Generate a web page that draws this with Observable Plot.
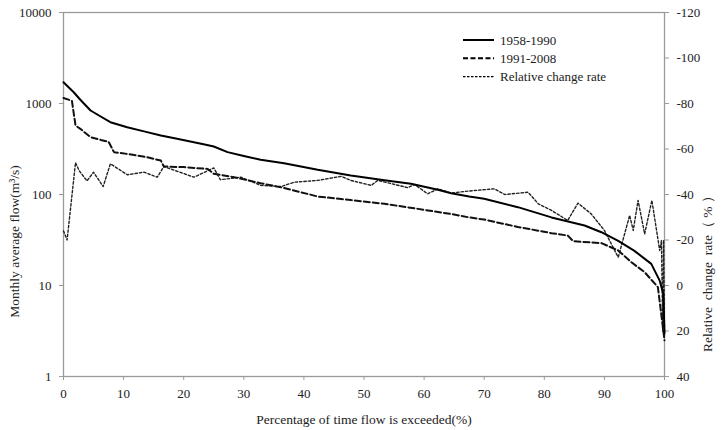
<!DOCTYPE html>
<html>
<head>
<meta charset="utf-8">
<script src="https://cdn.jsdelivr.net/npm/d3@7"></script>
<script src="https://cdn.jsdelivr.net/npm/@observablehq/plot@0.6"></script>
<style>
  html, body { margin: 0; padding: 0; background: #fff; }
  #chart { position: relative; width: 724px; height: 430px; }
</style>
</head>
<body>
<div id="chart"></div>
<script>
// 1958-1990 (solid)
const pctSolid = [0, 1.7, 2.8, 4.5, 5.9, 7.8, 10.6, 13.4, 16.2, 18.9, 21.7, 23.5, 25, 27.3, 30, 32.8, 36.7, 42.3, 47.8, 53.4, 57.8, 62.3, 64.5, 67.5, 70, 75.6, 81.2, 86.7, 89.5, 92.3, 95, 97.8, 99.2, 99.8, 100];
const flowSolid = [1714, 1330, 1100, 838, 738, 623, 549, 494, 444, 409, 376, 355, 337, 292, 265, 241, 221, 187, 162, 143, 131, 113, 103, 95, 89.6, 72.6, 56, 45.6, 38.5, 31, 24, 17.3, 11.3, 8.1, 3];

// 1991-2008 (dashed)
const pctDashed = [0, 1.4, 2, 2.8, 4.5, 6.2, 7.5, 8.4, 10.6, 13.9, 16.2, 16.7, 20, 24, 25, 28.4, 32.8, 36.7, 42.3, 47.8, 53.4, 59, 64.5, 67.5, 70, 75.6, 81.2, 83.9, 84.8, 89.5, 92.3, 94.5, 96.7, 98.9, 100];
const flowDashed = [1150, 1070, 573, 527, 427, 398, 380, 292, 279, 257, 236, 203, 200, 191, 169, 155, 133, 118, 95, 87, 79, 69.5, 61, 56, 53, 44, 37.6, 35.4, 30.7, 29.2, 24.3, 18, 14, 9.6, 2.5];

// Relative change rate (dotted, right axis, %)
const pctRate = [0, 0.6, 2, 2.6, 3.9, 5, 6.6, 7.8, 10.6, 13.4, 15.6, 16.7, 21.7, 25, 26.1, 29.5, 31.2, 32.8, 36.2, 38.4, 42.3, 46.2, 47.8, 51.2, 52.3, 57.3, 58.4, 60.6, 62.3, 64.5, 67.3, 71.7, 73.4, 77.3, 79, 81.2, 83.9, 85.6, 87.8, 90, 92.3, 94.2, 94.8, 95.6, 96.7, 97.9, 99.2, 99.5, 99.7, 99.85, 100];
const rateValues = [-24, -20, -54, -50.5, -46, -49.8, -43.5, -53.5, -48.7, -49.8, -47.6, -52.3, -47.6, -51.7, -46.5, -47.6, -45.8, -44, -43.5, -45.4, -46.2, -48, -46.2, -44, -46.2, -43, -44.4, -40.3, -42.5, -40.6, -41.5, -42.5, -40, -41, -35.9, -33, -28.6, -36.2, -31.5, -24.2, -12.4, -30.8, -24.2, -37.4, -22.7, -37.4, -15.4, -19.8, 20, -20, 22];

const leftTicks = [1, 10, 100, 1000, 10000];
const rightTicks = [-120, -100, -80, -60, -40, -20, 0, 20, 40];
const xTicks = [0, 10, 20, 30, 40, 50, 60, 70, 80, 90, 100];

const xLabel = "Percentage of time flow is exceeded(%)";
const yLabel = "Monthly average flow(m\u00B3/s)";
const y2Label = "Relative\u00A0\u00A0change\u00A0\u00A0rate\uFF08\u00A0%\u00A0\uFF09";
const seriesNames = ["1958-1990", "1991-2008", "Relative change rate"];

// right-axis value r maps onto the left log scale: v = 10^(1 - r/40)
const rateToLeft = r => Math.pow(10, 1 - r / 40);

const solid = pctSolid.map((p, i) => ({p, v: flowSolid[i]}));
const dashed = pctDashed.map((p, i) => ({p, v: flowDashed[i]}));
const rate = pctRate.map((p, i) => ({p, v: rateToLeft(rateValues[i])}));
const rightTickData = rightTicks.map(r => ({r, v: rateToLeft(r)}));

const font = "'Liberation Serif', 'Times New Roman', 'DejaVu Serif', serif";
const axisGray = "#9a9a9a";
const textColor = "#222";

// custom vertical-stroke shape for right-axis tick marks
const tickShape = {draw(context, l) { context.moveTo(0, 0); context.lineTo(0, -l); }};

const plot = Plot.plot({
  width: 724,
  height: 430,
  marginLeft: 63,
  marginRight: 60,
  marginTop: 12,
  marginBottom: 54,
  style: {fontFamily: font, fontSize: "13px", background: "#fff", color: textColor},
  x: {domain: [0, 100]},
  y: {type: "log", domain: [1, 10000]},
  marks: [
    Plot.frame({stroke: axisGray, strokeWidth: 1.3}),
    Plot.axisY({ticks: leftTicks, tickFormat: d => String(d), tickSize: 4, tickPadding: 8, label: null, stroke: axisGray, fill: textColor, fontSize: 13}),
    Plot.vector(rightTickData, {x: () => 100, y: "v", rotate: 90, length: 4, anchor: "start", shape: tickShape, stroke: axisGray, strokeWidth: 1.2}),
    Plot.text(rightTickData, {y: "v", text: d => String(d.r), frameAnchor: "right", textAnchor: "start", dx: 12, fontSize: 13, fill: textColor}),
    Plot.axisX({ticks: xTicks, tickFormat: d => String(d), tickSize: 4, tickPadding: 8, label: null, stroke: axisGray, fill: textColor, fontSize: 13}),
    Plot.line(rate, {x: "p", y: "v", stroke: "#222", strokeWidth: 1.4, strokeDasharray: "2.4,2"}),
    Plot.line(dashed, {x: "p", y: "v", stroke: "#111", strokeWidth: 2, strokeDasharray: "6,3"}),
    Plot.line(solid, {x: "p", y: "v", stroke: "#000", strokeWidth: 2}),
    Plot.text([xLabel], {text: d => d, frameAnchor: "bottom", textAnchor: "middle", dy: 47, fontSize: 13.5, fill: textColor}),
    Plot.text([yLabel], {text: d => d, frameAnchor: "left", textAnchor: "middle", dx: -49, dy: 47, rotate: -90, fontSize: 13.5, fill: textColor}),
    Plot.text([y2Label], {text: d => d, frameAnchor: "right", textAnchor: "middle", dx: 43, dy: 76, rotate: -90, fontSize: 13.5, fill: textColor})
  ]
});

document.getElementById("chart").appendChild(plot);

// legend
const svg = d3.select(plot);
const legend = svg.append("g").attr("font-family", font).attr("font-size", 13).attr("fill", textColor).attr("text-anchor", "start");
const styles = [
  {dash: null, w: 2},
  {dash: "5,2.5", w: 2},
  {dash: "2.5,1.5", w: 1.1}
];
seriesNames.forEach((name, i) => {
  const y = 40 + i * 18.3;
  legend.append("line").attr("x1", 463).attr("x2", 494).attr("y1", y).attr("y2", y)
    .attr("stroke", "#000").attr("stroke-width", styles[i].w)
    .attr("stroke-dasharray", styles[i].dash);
  legend.append("text").attr("x", 500).attr("y", y).attr("dy", "0.35em").attr("text-anchor", "start").text(name);
});
</script>
</body>
</html>
